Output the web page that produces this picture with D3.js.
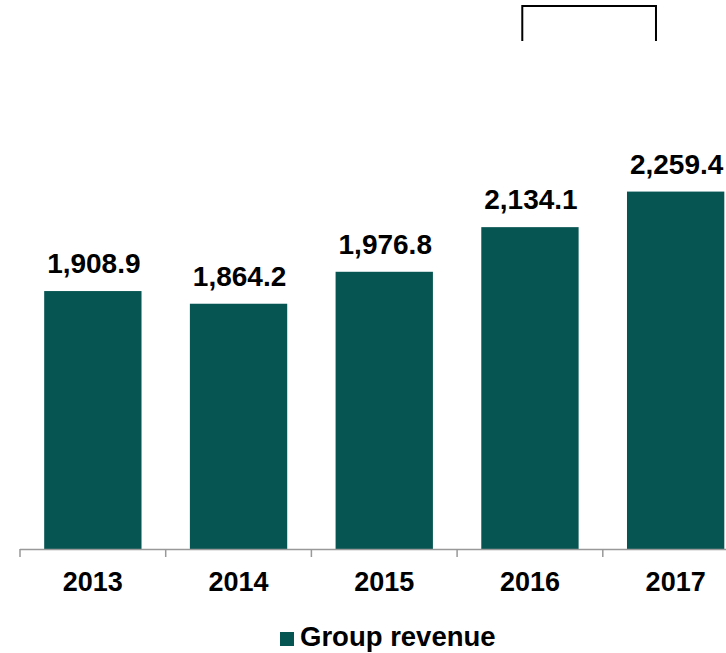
<!DOCTYPE html>
<html lang="en">
<head>
<meta charset="UTF-8">
<title>Group revenue</title>
<style>
  body { margin: 0; background: #fff; }
  svg { display: block; }
  text { font-family: Arial, "Liberation Sans", Helvetica, sans-serif; font-weight: bold; fill: #000; }
</style>
</head>
<body>
<svg id="chart" width="726" height="653"></svg>
<script src="https://d3js.org/d3.v7.min.js"></script>
<script>
// data
const years = ["2013", "2014", "2015", "2016", "2017"];
const revenue = [1908.9, 1864.2, 1976.8, 2134.1, 2259.4];
const seriesName = "Group revenue";

const svg = d3.select("#chart");
const barColor = "#075553";
const baseY = 549;

// scales - axis runs off the right edge like the original slide
const x = d3.scaleBand().domain(years).range([20, 748.5]).paddingInner(0.332).paddingOuter(0.166);
const y = d3.scaleLinear().domain([1000, 2500]).range([baseY, 123.3]);

// bars
svg.selectAll("rect.bar")
  .data(years)
  .join("rect")
  .attr("class", "bar")
  .attr("x", d => x(d))
  .attr("width", x.bandwidth())
  .attr("y", (d, i) => y(revenue[i]))
  .attr("height", (d, i) => baseY - y(revenue[i]))
  .attr("fill", barColor);

// value labels
svg.selectAll("text.val")
  .data(years)
  .join("text")
  .attr("class", "val")
  .attr("x", d => x(d) + x.bandwidth() / 2 + 1)
  .attr("y", (d, i) => y(revenue[i]) - 18)
  .attr("text-anchor", "middle")
  .style("font-size", "28px")
  .text((d, i) => d3.format(",.1f")(revenue[i]));

// category axis: line + tick marks at band boundaries
const ax = svg.append("g");
ax.append("line")
  .attr("x1", 20).attr("x2", 748.5)
  .attr("y1", baseY + 0.5).attr("y2", baseY + 0.5)
  .attr("stroke", "#999").attr("stroke-width", 1.5);
ax.selectAll("line.tick")
  .data(d3.range(years.length + 1))
  .join("line")
  .attr("class", "tick")
  .attr("x1", i => 20 + i * x.step()).attr("x2", i => 20 + i * x.step())
  .attr("y1", baseY).attr("y2", baseY + 8)
  .attr("stroke", "#999").attr("stroke-width", 1.5);
ax.selectAll("text.yr")
  .data(years)
  .join("text")
  .attr("class", "yr")
  .attr("x", d => x(d) + x.bandwidth() / 2)
  .attr("y", 591)
  .attr("text-anchor", "middle")
  .style("font-size", "27px")
  .text(d => d);

// bracket above 2016-2017
const bx1 = x("2016") + 41, bx2 = x("2017") + 29;
svg.append("path")
  .attr("d", `M${bx1},41V6H${bx2}V41`)
  .attr("fill", "none")
  .attr("stroke", "#000")
  .attr("stroke-width", 2);

// legend
const lg = svg.append("g").attr("transform", "translate(280,632)");
lg.append("rect").attr("width", 14).attr("height", 14).attr("fill", barColor);
lg.append("text").attr("x", 20).attr("y", 14).style("font-size", "27.5px").text(seriesName);
</script>
</body>
</html>
